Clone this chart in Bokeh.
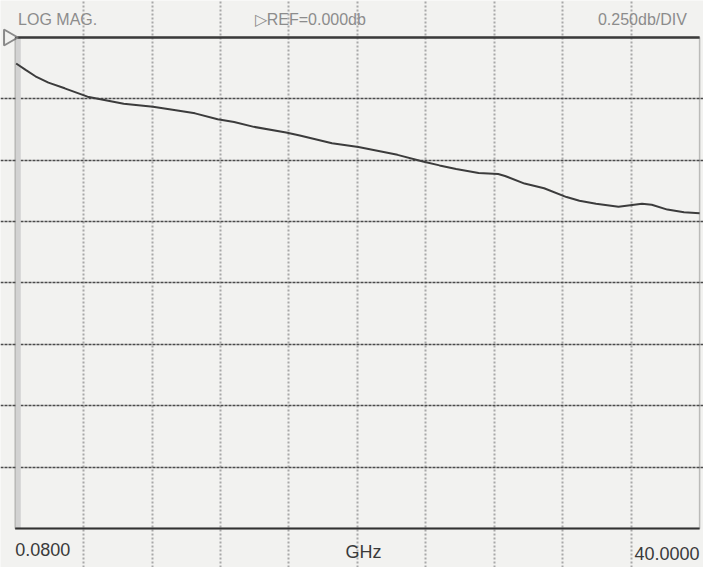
import math
from bokeh.plotting import figure
from bokeh.models import Range1d, Grid, FixedTicker, BoxAnnotation
from bokeh.core.properties import value
from bokeh.embed import file_html
from bokeh.resources import INLINE

# ---- data ----
freq_ghz = [0.137, 0.69, 1.26, 2.02, 2.97, 4.30, 6.41, 8.12, 9.26, 10.57, 11.89, 12.85,
            14.0, 15.88, 16.68, 18.56, 20.10, 22.38, 23.86, 24.83, 25.80, 27.11, 28.25,
            28.65, 29.79, 30.93, 32.24, 32.99, 33.96, 35.27, 36.64, 37.21, 38.12, 39.09, 40.0]
mag_db = [-0.106, -0.132, -0.158, -0.184, -0.207, -0.241, -0.270, -0.282, -0.294, -0.309,
          -0.333, -0.344, -0.364, -0.387, -0.399, -0.431, -0.446, -0.478, -0.505, -0.521,
          -0.536, -0.552, -0.556, -0.564, -0.595, -0.614, -0.650, -0.665, -0.677, -0.689,
          -0.677, -0.681, -0.701, -0.712, -0.716]

f_start, f_stop = 0.08, 40.0
ref_db = 0.0
db_per_div = 0.25
n_ydiv = 8
n_xdiv = 10
top_texts = ["LOG MAG.", "\u25b7REF=0.000db", "0.250db/DIV"]
bottom_texts = ["0.0800", "GHz", "40.0000"]

x_div = (f_stop - f_start) / n_xdiv
y_bottom = ref_db - db_per_div * n_ydiv
x_ticks = [f_start + x_div * k for k in range(1, n_xdiv)]
y_ticks = [ref_db - db_per_div * k for k in range(1, n_ydiv)]

BG = "#f2f2f0"

p = figure(width=703, height=567, output_backend="svg", toolbar_location=None,
           x_axis_location=None, y_axis_location=None,
           x_range=Range1d(-0.776, 40.227), y_range=Range1d(-2.1589, 0.1507),
           min_border=0, background_fill_color=BG, border_fill_color=BG,
           outline_line_color=None)
for g in p.grid:
    g.visible = False

# grids
vgrid = Grid(dimension=0, ticker=FixedTicker(ticks=x_ticks), bounds=(y_bottom, ref_db),
             grid_line_color="#a8a8a8", grid_line_width=2, grid_line_dash="2 2")
hgrid = Grid(dimension=1, ticker=FixedTicker(ticks=y_ticks), bounds=(f_start, f_stop),
             grid_line_color="#4a4a4a", grid_line_width=1.3, grid_line_dash="3 1")
p.add_layout(vgrid)
p.add_layout(hgrid)

# frame
p.add_layout(BoxAnnotation(left=f_start, right=f_stop, bottom=y_bottom, top=ref_db,
                           fill_alpha=0, line_color="#3a3a3a", line_width=1.5))
# left gray band
p.segment(x0=[f_start + 0.18], y0=[ref_db], x1=[f_start + 0.18], y1=[y_bottom],
          line_color="#d2d2d2", line_width=5)
# top reference line
p.segment(x0=[f_start], y0=[ref_db], x1=[f_stop], y1=[ref_db],
          line_color="#3a3a3a", line_width=2.5)
# bottom line
p.segment(x0=[f_start], y0=[y_bottom], x1=[f_stop], y1=[y_bottom],
          line_color="#2e2e2e", line_width=2)

# reference marker
p.scatter(x=[-0.3], y=[ref_db], marker="triangle", size=16, angle=-math.pi / 2,
          fill_alpha=0, line_color="#8a8a8a", line_width=2)

# trace
p.line(freq_ghz, mag_db, line_color="#3c3c3c", line_width=2)

# top annotations
top_y = 0.0733
p.text(x=[0.25], y=[top_y], text=[top_texts[0]], text_font=value("Liberation Sans"),
       text_font_size=value("16px"), text_color="#8c8c8c", text_align="left",
       text_baseline="middle")
p.text(x=[14.05], y=[top_y], text=[top_texts[1]], text_font=value("Liberation Sans"),
       text_font_size=value("16px"), text_color="#8c8c8c", text_align="left",
       text_baseline="middle")
p.text(x=[39.26], y=[top_y], text=[top_texts[2]], text_font=value("Liberation Sans"),
       text_font_size=value("16px"), text_color="#8c8c8c", text_align="right",
       text_baseline="middle")

# bottom annotations
p.text(x=[f_start], y=[-2.0855], text=[bottom_texts[0]], text_font=value("Liberation Sans"),
       text_font_size=value("18px"), text_color="#3a3a3a", text_align="left",
       text_baseline="middle")
p.text(x=[20.4], y=[-2.0977], text=[bottom_texts[1]], text_font=value("Liberation Sans"),
       text_font_size=value("18px"), text_color="#3a3a3a", text_align="center",
       text_baseline="middle")
p.text(x=[f_stop], y=[-2.1018], text=[bottom_texts[2]], text_font=value("Liberation Sans"),
       text_font_size=value("18px"), text_color="#3a3a3a", text_align="right",
       text_baseline="middle")

open("out.html", "w").write(file_html(p, INLINE))
